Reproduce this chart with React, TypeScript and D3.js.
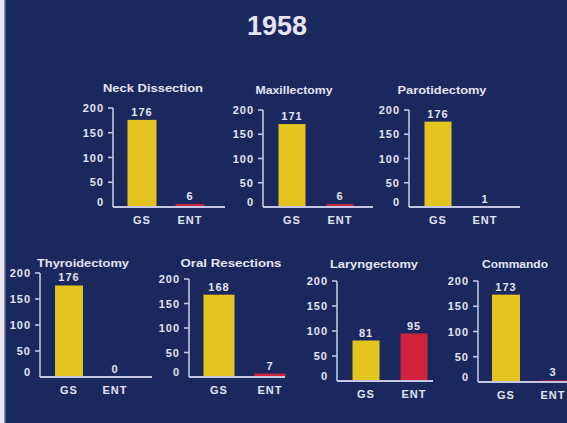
import React from "react";
import * as d3 from "d3";

const YEAR = "1958";
const procedures = ["Neck Dissection", "Maxillectomy", "Parotidectomy", "Thyroidectomy", "Oral Resections", "Laryngectomy", "Commando"];
const categories = ["GS", "ENT"];
const gsValues = [176, 171, 176, 176, 168, 81, 173];
const entValues = [6, 6, 1, 0, 7, 95, 3];
const yTicks = [0, 50, 100, 150, 200];

// layout per panel (positions only)
const layout = [
  { ax: 113, top: 108, base: 207, xEnd: 225, gs: 142, ent: 190, bw: 29, tx: 153, ty: 92, tl: 100 },
  { ax: 263, top: 110, base: 207, xEnd: 373, gs: 292, ent: 340, bw: 27, tx: 294, ty: 94, tl: 77 },
  { ax: 409, top: 110, base: 207, xEnd: 520, gs: 438, ent: 485, bw: 27, tx: 442, ty: 94, tl: 89 },
  { ax: 40, top: 273, base: 377, xEnd: 152, gs: 69, ent: 115, bw: 28, tx: 83, ty: 267, tl: 92 },
  { ax: 189, top: 279, base: 377, xEnd: 285, gs: 219, ent: 270, bw: 31, tx: 231, ty: 267, tl: 101 },
  { ax: 337, top: 281, base: 381, xEnd: 433, gs: 366, ent: 414, bw: 27, tx: 374, ty: 268, tl: 88 },
  { ax: 478, top: 281, base: 382, xEnd: 567, gs: 506, ent: 553, bw: 28, tx: 515, ty: 268, tl: 66 },
];

const BG = "#1b285e";
const YELLOW = "#e4c51f";
const RED = "#d1233d";
const AXIS = "#c3c6e4";
const TEXT = "#e2e4f2";
const FONT = "'Liberation Sans', Arial, sans-serif";

function Panel({ i }: { i: number }) {
  const L = layout[i];
  const y = d3.scaleLinear().domain([0, 200]).range([L.base, L.top]);
  const x = d3.scalePoint<string>().domain(categories).range([L.gs, L.ent]);
  const vals = [gsValues[i], entValues[i]];
  return (
    <g>
      <text x={L.tx} y={L.ty} textAnchor="middle" fill={TEXT} fontSize={10.5} fontWeight="bold"
        fontFamily={FONT} textLength={L.tl} lengthAdjust="spacingAndGlyphs">{procedures[i]}</text>
      {categories.map((c, k) => {
        const v = vals[k];
        const h = L.base - y(v);
        return (
          <g key={c}>
            {v > 0 && (
              <rect x={(x(c) as number) - L.bw / 2} y={y(v)} width={L.bw} height={h}
                fill={k === 0 ? YELLOW : RED} />
            )}
            <text x={x(c) as number} y={y(v) - 4} textAnchor="middle" fill={TEXT} fontSize={11}
              fontWeight="bold" fontFamily={FONT} letterSpacing={1}>{v}</text>
            <text x={x(c) as number} y={L.base + 17} textAnchor="middle" fill={TEXT} fontSize={11}
              fontWeight="bold" fontFamily={FONT} letterSpacing={1}>{c}</text>
          </g>
        );
      })}
      <line x1={L.ax} x2={L.ax} y1={y(200)} y2={L.base} stroke={AXIS} strokeWidth={1.6} />
      <line x1={L.ax} x2={L.xEnd} y1={L.base} y2={L.base} stroke={AXIS} strokeWidth={2} />
      {yTicks.map((t) => (
        <g key={t}>
          {t > 0 && <line x1={L.ax - 5} x2={L.ax} y1={y(t)} y2={y(t)} stroke={AXIS} strokeWidth={1.6} />}
          <text x={L.ax - 9} y={y(t) + (t === 0 ? -1 : 4)} textAnchor="end" fill={TEXT} fontSize={11}
            fontWeight="bold" fontFamily={FONT} letterSpacing={1}>{t}</text>
        </g>
      ))}
    </g>
  );
}

export default function App() {
  return (
    <svg width={567} height={423} style={{ position: "absolute", left: 0, top: 0 }}>
      <rect x={0} y={0} width={567} height={423} fill={BG} />
      <rect x={0} y={0} width={4} height={423} fill="#e8e8ee" />
      <rect x={4} y={0} width={1.5} height={423} fill="#8a90a8" />
      <text x={277} y={35} textAnchor="middle" fill={TEXT} fontSize={27} fontWeight="bold"
        fontFamily={FONT}>{YEAR}</text>
      {procedures.map((_, i) => <Panel key={i} i={i} />)}
    </svg>
  );
}
